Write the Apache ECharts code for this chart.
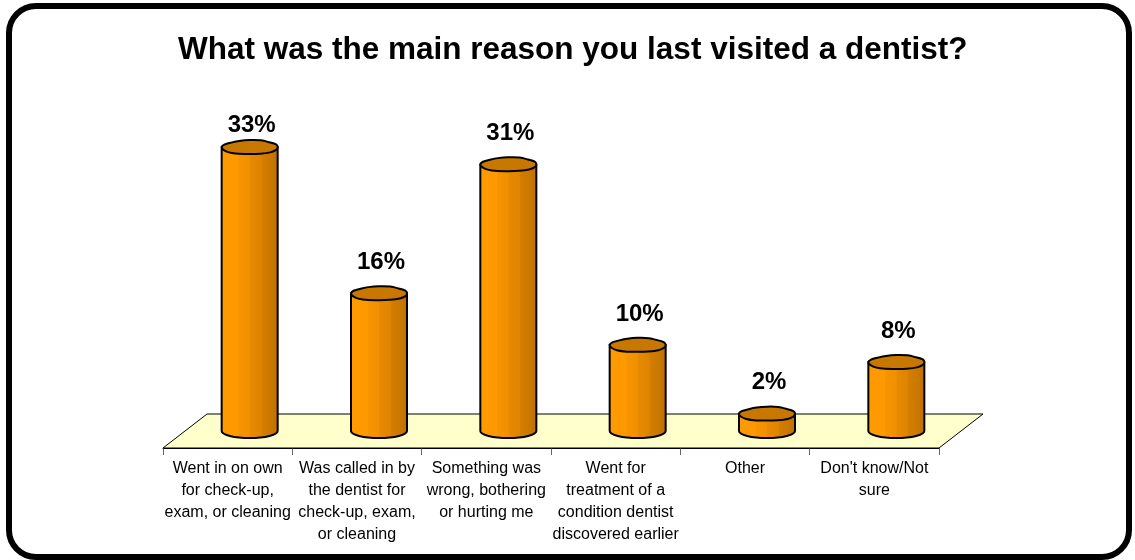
<!DOCTYPE html>
<html>
<head>
<meta charset="utf-8">
<script src="https://cdn.jsdelivr.net/npm/echarts@6/dist/echarts.min.js"></script>
<style>
  html, body { margin: 0; padding: 0; background: #fff; }
  #chart { width: 1135px; height: 560px; }
</style>
</head>
<body>
<div id="chart"></div>
<script>
// Survey answers (category labels, wrapped as printed under the axis)
const categories = [
  'Went in on own\nfor check-up,\nexam, or cleaning',
  'Was called in by\nthe dentist for\ncheck-up, exam,\nor cleaning',
  'Something was\nwrong, bothering\nor hurting me',
  'Went for\ntreatment of a\ncondition dentist\ndiscovered earlier',
  'Other',
  "Don't know/Not\nsure"
];
// Share of respondents, percent
const percents = [33, 16, 31, 10, 2, 8];
const titleText = 'What was the main reason you last visited a dentist?';

// 3D look: depth of the floor and cylinder size (pixels)
const DEPTH_X = 44, DEPTH_Y = -34;
const BAR_RX = 28, BAR_RY = 7;
// slight hand-drawn irregularity of the cylinder caps (radius factors around the rim)
const CAP_WOBBLE = [1, 1.02, 1.05, 1.0, 0.97, 1.03, 1.05, 1.01, 1, 0.98, 0.93, 0.97, 1.02, 1.06, 0.99, 1.02];
const FONT = '"Liberation Sans", Arial, sans-serif';

const chart = echarts.init(document.getElementById('chart'));

function renderFloor(params, api) {
  const cs = params.coordSys;
  const y0 = cs.y + cs.height;
  const pts = [
    [cs.x, y0],
    [cs.x + cs.width, y0],
    [cs.x + cs.width + DEPTH_X, y0 + DEPTH_Y],
    [cs.x + DEPTH_X, y0 + DEPTH_Y]
  ];
  return {
    type: 'polygon',
    shape: { points: pts },
    style: { fill: '#FFFFCC', stroke: '#000', lineWidth: 1 },
    silent: true
  };
}

function capPoints(cx, cy) {
  const n = CAP_WOBBLE.length;
  const pts = [];
  for (let j = 0; j < n; j++) {
    const a = (j / n) * Math.PI * 2;
    const m = CAP_WOBBLE[j];
    pts.push([cx + BAR_RX * Math.cos(a) * m, cy + BAR_RY * Math.sin(a) * m]);
  }
  return pts;
}

function renderCylinder(params, api) {
  const cs = params.coordSys;
  const idx = api.value(0);
  const v = api.value(1);
  const base = api.coord([idx, 0]);
  const top = api.coord([idx, v]);
  const cx = base[0] + DEPTH_X / 2;
  const by = base[1] + DEPTH_Y / 2;
  const ty = top[1] + DEPTH_Y / 2;
  const k = 0.5522847498;
  const l = cx - BAR_RX, r = cx + BAR_RX;
  const body =
    'M' + l + ' ' + ty +
    ' L' + l + ' ' + by +
    ' C' + l + ' ' + (by + k * BAR_RY) + ' ' + (cx - k * BAR_RX) + ' ' + (by + BAR_RY) + ' ' + cx + ' ' + (by + BAR_RY) +
    ' C' + (cx + k * BAR_RX) + ' ' + (by + BAR_RY) + ' ' + r + ' ' + (by + k * BAR_RY) + ' ' + r + ' ' + by +
    ' L' + r + ' ' + ty + ' Z';
  const sideFill = new echarts.graphic.LinearGradient(0, 0, 1, 0, [
    { offset: 0, color: '#FF9A00' },
    { offset: 0.3, color: '#FF9900' },
    { offset: 0.31, color: '#F79500' },
    { offset: 0.5, color: '#F09000' },
    { offset: 0.51, color: '#E88A00' },
    { offset: 0.7, color: '#DE8400' },
    { offset: 0.71, color: '#D47E00' },
    { offset: 0.88, color: '#C97700' },
    { offset: 1, color: '#BA6E00' }
  ]);
  // keep the value label inside the plot area
  const labelY = Math.max(ty - 31, cs.y + 21);
  return {
    type: 'group',
    children: [
      {
        type: 'path',
        shape: { pathData: body },
        style: { fill: sideFill, stroke: '#000', lineWidth: 2 }
      },
      {
        type: 'polygon',
        shape: { points: capPoints(cx, ty), smooth: 0.25 },
        style: { fill: '#C87800', stroke: '#000', lineWidth: 2, lineJoin: 'round' }
      },
      {
        type: 'text',
        style: {
          text: v + '%',
          x: cx + 2,
          y: labelY,
          align: 'center',
          verticalAlign: 'middle',
          font: 'bold 24px ' + FONT,
          fill: '#000'
        }
      }
    ]
  };
}

chart.setOption({
  animation: false,
  backgroundColor: '#fff',
  title: {
    text: titleText,
    left: 173,
    top: 29,
    textStyle: { fontFamily: FONT, fontSize: 31.5, fontWeight: 'bold', color: '#000' }
  },
  graphic: [{
    type: 'rect',
    z: 100,
    shape: { x: 9, y: 6, width: 1120, height: 551, r: 27 },
    style: { fill: 'none', stroke: '#000', lineWidth: 6 },
    silent: true
  }],
  grid: { left: 163, top: 104, width: 776, height: 344 },
  xAxis: {
    type: 'category',
    data: categories,
    boundaryGap: true,
    axisLine: { show: true, lineStyle: { color: '#000', width: 1 } },
    axisTick: { show: true, alignWithLabel: false, length: 7, lineStyle: { color: '#666' } },
    axisLabel: {
      interval: 0,
      margin: 10,
      fontFamily: FONT,
      fontSize: 16,
      lineHeight: 22,
      color: '#000',
      align: 'center'
    },
    splitLine: { show: false }
  },
  yAxis: {
    type: 'value',
    min: 0,
    max: 40,
    show: false,
    splitLine: { show: false }
  },
  series: [
    {
      type: 'custom',
      clip: false,
      silent: true,
      z: 1,
      renderItem: renderFloor,
      data: [[0, 0]]
    },
    {
      type: 'custom',
      clip: false,
      z: 3,
      renderItem: renderCylinder,
      encode: { x: 0, y: 1 },
      data: percents.map((p, i) => [i, p])
    }
  ]
});
</script>
</body>
</html>
